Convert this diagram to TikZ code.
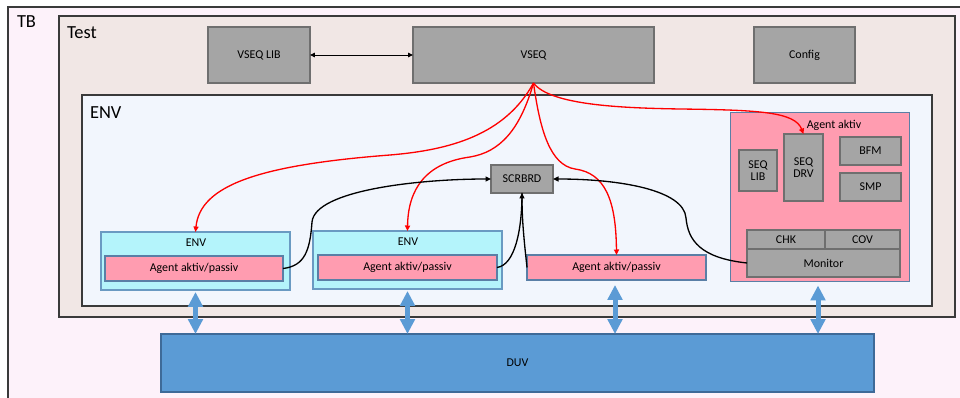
\documentclass[tikz,border=0pt]{standalone}
\usepackage{fontspec}
\setmainfont{Carlito}
\usetikzlibrary{arrows.meta}
\definecolor{tbfill}{HTML}{FDF2FA}
\definecolor{testfill}{HTML}{F1E7E5}
\definecolor{envfill}{HTML}{F2F6FD}
\definecolor{grayfill}{HTML}{A5A5A5}
\definecolor{grayline}{HTML}{6F6F6F}
\definecolor{pinkfill}{HTML}{FF9CB0}
\definecolor{blueline}{HTML}{5A7FA6}
\definecolor{cyanfill}{HTML}{B4F4FB}
\definecolor{cyanline}{HTML}{6A9AC2}
\definecolor{duvfill}{HTML}{5B9BD5}
\definecolor{duvline}{HTML}{3E6A98}
\definecolor{frameline}{HTML}{3A3A3A}
\begin{document}
\begin{tikzpicture}[x=0.02cm,y=-0.02cm,
  every node/.style={font=\fontsize{6.8}{8}\selectfont, inner sep=0pt, outer sep=0pt},
  biglabel/.style={font=\fontsize{10.5}{12}\selectfont, anchor=west},
  gbox/.style={draw=grayline, fill=grayfill, line width=0.7pt},
  pbox/.style={draw=blueline, fill=pinkfill, line width=0.6pt},
  cbox/.style={draw=cyanline, fill=cyanfill, line width=0.6pt},
  redcon/.style={red, line width=0.75pt, -{Triangle[length=0.11cm,width=0.1cm]}},
  blkcon/.style={black, line width=0.75pt},
  blkarr/.style={black, line width=0.75pt, -{Triangle[length=0.11cm,width=0.1cm]}},
  dbl/.style={duvfill, line width=0.1cm, {Triangle[length=0.3cm,width=0.29cm]}-{Triangle[length=0.3cm,width=0.29cm]}}
]
\path[use as bounding box] (0,0) rectangle (960,398);
\clip (0,0) rectangle (960,398);
\fill[white] (0,0) rectangle (960,398);
% frames
\draw[fill=tbfill, draw=frameline, line width=0.8pt] (8,7) rectangle (990,420);
\node[biglabel] (tbl) at (17,22) {TB};
\draw[fill=testfill, draw=frameline, line width=0.8pt] (59,16) rectangle (955,317);
\node[biglabel] (testl) at (67,33) {Test};
\draw[fill=envfill, draw=frameline, line width=0.8pt] (82,95) rectangle (932,306);
\node[biglabel] (envl) at (90,113) {ENV};
% top boxes
\node[gbox, minimum width=2.04cm, minimum height=1.12cm] (vseqlib) at (259,55) {VSEQ LIB};
\node[gbox, minimum width=4.82cm, minimum height=1.12cm] (vseq) at (533.5,55) {VSEQ};
\node[gbox, minimum width=2.02cm, minimum height=1.12cm] (config) at (804.5,55) {Config};
\draw[black, line width=0.5pt, {Triangle[length=0.1cm,width=0.09cm]}-{Triangle[length=0.1cm,width=0.09cm]}] (vseqlib.east) -- (vseq.west);
% scoreboard
\node[gbox, minimum width=1.24cm, minimum height=0.56cm] (scrbrd) at (522,179) {SCRBRD};
% env1
\node[cbox, minimum width=3.78cm, minimum height=1.16cm] (env1) at (195.5,261) {};
\node (env1l) at (196,243) {ENV};
\node[pbox, minimum width=3.56cm, minimum height=0.5cm] (agent1) at (194,268.5) {Agent aktiv/passiv};
% env2
\node[cbox, minimum width=3.78cm, minimum height=1.16cm] (env2) at (407.5,260) {};
\node (env2l) at (408,242) {ENV};
\node[pbox, minimum width=3.58cm, minimum height=0.5cm] (agent2) at (407.5,267.5) {Agent aktiv/passiv};
% agent3
\node[pbox, minimum width=3.58cm, minimum height=0.5cm] (agent3) at (616.5,267.5) {Agent aktiv/passiv};
% big active agent
\node[pbox, minimum width=3.58cm, minimum height=3.38cm] (aagent) at (820,197) {};
\node (aagentl) at (834,125) {Agent aktiv};
\node[gbox, minimum width=0.76cm, minimum height=0.82cm, align=center] (seqlib) at (758,170.5) {SEQ\\[-1pt]LIB};
\node[gbox, minimum width=0.78cm, minimum height=1.34cm, align=center] (seqdrv) at (803.5,167.5) {SEQ\\[-1pt]DRV};
\node[gbox, minimum width=1.22cm, minimum height=0.56cm] (bfm) at (870.5,151) {BFM};
\node[gbox, minimum width=1.22cm, minimum height=0.56cm] (smp) at (870.5,187) {SMP};
\node[gbox, minimum width=1.56cm, minimum height=0.38cm] (chk) at (786,239.5) {CHK};
\node[gbox, minimum width=1.5cm, minimum height=0.38cm] (cov) at (862.5,239.5) {COV};
\node[gbox, minimum width=3.06cm, minimum height=0.56cm] (monitor) at (823.5,263) {Monitor};
% DUV
\node[draw=duvline, fill=duvfill, line width=0.7pt, minimum width=14.26cm, minimum height=1.16cm] (duv) at (517.5,363) {DUV};
% red connectors
\coordinate (r1) at (390,155);
\coordinate (r2) at (470,157);
\coordinate (r3) at (575,169);
\coordinate (r4) at (680,109);
\draw[redcon] (vseq.south) .. controls (505,135) and (450,150) .. (r1) .. controls (260,165) and (200,185) .. (env1.north);
\draw[redcon] (vseq.south) .. controls (520,130) and (500,152) .. (r2) .. controls (425,163) and (408,190) .. (env2.north);
\draw[redcon] (vseq.south) .. controls (540,130) and (550,165) .. (r3) .. controls (605,173) and (616,200) .. (agent3.north);
\draw[redcon] (vseq.south) .. controls (550,105) and (620,108) .. (r4) .. controls (760,110) and (795,112) .. (seqdrv.north);
% black connectors
\coordinate (b1) at (312,222);
\coordinate (b4) at (686,218);
\draw[blkarr] (agent1.east) .. controls (305,266) and (310,250) .. (b1) .. controls (315,190) and (420,179) .. (scrbrd.west);
\draw[blkcon] (agent2.east) .. controls (515,265) and (522,230) .. (scrbrd.south);
\draw[blkarr] (agent3.west) .. controls (524,240) and (522,220) .. (scrbrd.south);
\draw[blkarr] (monitor.west) .. controls (700,258) and (688,240) .. (b4) .. controls (684,190) and (620,179) .. (scrbrd.east);
% DUV interfaces
\draw[dbl] ([yshift=-0.04cm]env1.south) -- (env1.south |- duv.north);
\draw[dbl] ([yshift=-0.04cm]env2.south) -- (env2.south |- duv.north);
\draw[dbl] ([xshift=-0.03cm,yshift=-0.1cm]agent3.south) -- ([xshift=-0.03cm]agent3.south |- duv.north);
\draw[dbl] ([xshift=-0.04cm,yshift=-0.08cm]aagent.south) -- ([xshift=-0.04cm]aagent.south |- duv.north);
\end{tikzpicture}
\end{document}
